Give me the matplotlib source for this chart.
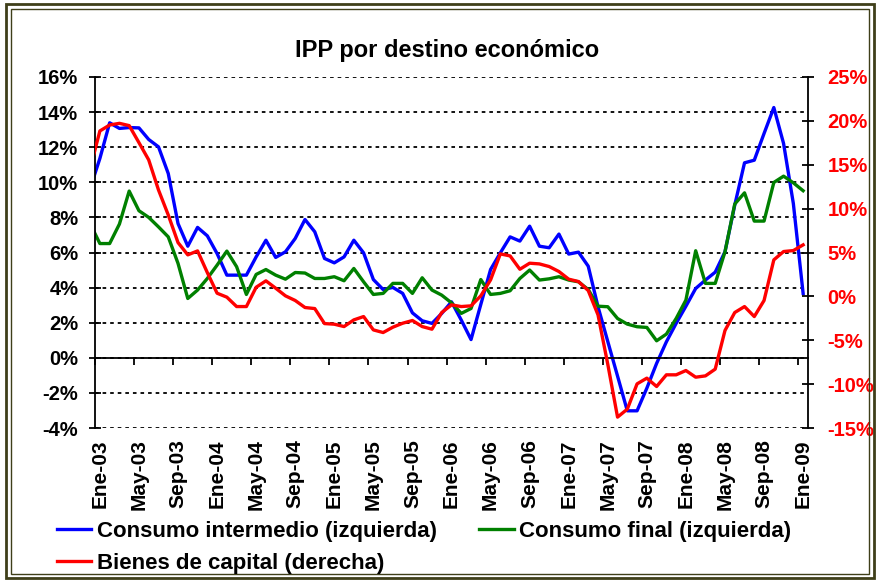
import numpy as np
import matplotlib.pyplot as plt
from matplotlib.patches import Rectangle

plt.rcParams['font.family'] = ['Liberation Sans', 'DejaVu Sans']
plt.rcParams['font.weight'] = 'bold'

meses = ['Ene', 'Feb', 'Mar', 'Abr', 'May', 'Jun', 'Jul', 'Ago', 'Sep', 'Oct', 'Nov', 'Dic']
# Dic-02 (only its edge shows at the left) up to Ene-09
fechas = ['Dic-02'] + ['%s-%02d' % (m, a) for a in range(3, 9) for m in meses] + ['Ene-09']

consumo_intermedio = [
    9.65, 11.36, 13.39, 13.07, 13.12, 13.10, 12.44, 12.02, 10.50, 7.65, 6.36, 7.43, 6.95,
    5.94, 4.71, 4.71, 4.71, 5.75, 6.70, 5.72, 6.04, 6.80, 7.88, 7.18, 5.66,
    5.41, 5.75, 6.70, 5.98, 4.46, 3.89, 4.01, 3.67, 2.56, 2.11, 1.96, 2.53,
    3.19, 2.15, 1.04, 3.04, 5.03, 5.98, 6.89, 6.65, 7.50, 6.36, 6.27, 7.05,
    5.91, 6.02, 5.22, 2.91, 0.93, -1.04, -3.02, -3.02, -1.73, -0.32, 0.91, 1.96,
    2.94, 3.95, 4.43, 4.88, 6.04, 8.70, 11.11, 11.26, 12.78, 14.26, 12.21, 8.79,
    3.67]

consumo_final = [
    7.64, 6.51, 6.51, 7.62, 9.50, 8.38, 8.00, 7.46, 6.89, 5.38, 3.38, 3.86, 4.52,
    5.28, 6.08, 5.19, 3.61, 4.75, 5.03, 4.71, 4.48, 4.86, 4.83, 4.52, 4.52,
    4.62, 4.39, 5.09, 4.33, 3.61, 3.67, 4.24, 4.24, 3.67, 4.56, 3.86, 3.57,
    3.13, 2.53, 2.81, 4.46, 3.61, 3.67, 3.82, 4.52, 5.00, 4.43, 4.50, 4.62,
    4.43, 4.33, 3.89, 2.94, 2.91, 2.24, 1.92, 1.77, 1.73, 0.97, 1.35, 2.24,
    3.29, 6.10, 4.24, 4.24, 6.04, 8.76, 9.40, 7.79, 7.79, 9.99, 10.35, 9.97,
    9.52]

bienes_capital = [
    14.56, 18.85, 19.53, 19.72, 19.46, 17.52, 15.55, 12.13, 9.28, 6.13, 4.73, 5.18, 2.71,
    0.36, -0.09, -1.16, -1.16, 1.04, 1.77, 0.93, 0.06, -0.47, -1.27, -1.39, -3.10,
    -3.17, -3.44, -2.68, -2.30, -3.82, -4.12, -3.51, -3.06, -2.75, -3.44, -3.74, -1.84,
    -0.97, -1.16, -1.08, 0.06, 1.88, 4.84, 4.61, 3.09, 3.78, 3.70, 3.40, 2.83,
    1.96, 1.69, 0.66, -2.11, -7.73, -13.76, -12.85, -9.97, -9.32, -10.27, -8.94, -8.94,
    -8.45, -9.21, -9.06, -8.29, -3.89, -1.84, -1.16, -2.30, -0.47, 4.16, 5.11, 5.22,
    5.87]

x = np.arange(len(fechas)) - 1

fig = plt.figure(figsize=(8.77, 5.83), dpi=100)
W, H = 877, 583
ax = fig.add_axes([95 / W, 1 - 428 / H, (808 - 95) / W, (428 - 77) / H])
ax2 = ax.twinx()

l1, = ax.plot(x, consumo_intermedio, color='#0000FF', lw=2.4)
l2, = ax.plot(x, consumo_final, color='#008000', lw=2.4)
l3, = ax2.plot(x, bienes_capital, color='#FF0000', lw=2.4)

ax.set_xlim(-0.5, 72.5)
ax.set_ylim(-4, 16)
ax2.set_ylim(-15, 25)

ax.set_yticks(np.arange(-4, 17, 2))
ax.set_yticklabels(['%d%%' % v for v in np.arange(-4, 17, 2)])
ax2.set_yticks(np.arange(-15, 26, 5))
ax2.set_yticklabels(['%d%%' % v for v in np.arange(-15, 26, 5)], color='red')

ax.yaxis.grid(True, linestyle=(0, (2, 2.2)), color='black', lw=1.3)
ax.set_axisbelow(True)

for a in (ax, ax2):
    a.spines['top'].set_visible(False)
ax2.spines['bottom'].set_visible(False)
ax2.spines['left'].set_visible(False)
ax.spines['right'].set_visible(False)
ax.spines['bottom'].set_position(('data', 0))
for s in ('left', 'bottom'):
    ax.spines[s].set_linewidth(1.3)
ax2.spines['right'].set_linewidth(1.3)

ax.tick_params(axis='y', direction='inout', length=8, width=1.3, labelsize=14.5, pad=8)
ax2.tick_params(axis='y', direction='inout', length=8, width=1.3, labelsize=14.5, pad=10)
ax.set_xticks(np.arange(-0.5, 73, 4))
ax.tick_params(axis='x', direction='out', length=5, width=1.3, labelbottom=False)

for k in range(0, 73, 4):
    ax.text(k, -0.033, fechas[k + 1], transform=ax.get_xaxis_transform(),
            rotation=90, ha='center', va='top', fontsize=15, fontweight='bold')

fig.text(0.51, 1 - 51 / H, 'IPP por destino económico', ha='center', va='center',
         fontsize=17, fontweight='bold')

# column-wise order so row 1 holds both "izquierda" series
fig.legend([l1, l3, l2],
           ['Consumo intermedio (izquierda)', 'Bienes de capital (derecha)',
            'Consumo final (izquierda)'],
           loc='upper left', bbox_to_anchor=(57 / W, 1 - 521 / H), ncol=2,
           frameon=False, fontsize=16, handlelength=1.55, handletextpad=0.25,
           columnspacing=1.9, labelspacing=0.5, borderpad=0, borderaxespad=0)

olive = '#3f3f1a'
fig.patches.append(Rectangle((6 / W, 5 / H), 868 / W, 574 / H, transform=fig.transFigure,
                             fill=False, ec=olive, lw=2))
fig.patches.append(Rectangle((11 / W, 9 / H), 858 / W, 565 / H, transform=fig.transFigure,
                             fill=False, ec=olive, lw=1))

fig.savefig('out.png', dpi=100)
